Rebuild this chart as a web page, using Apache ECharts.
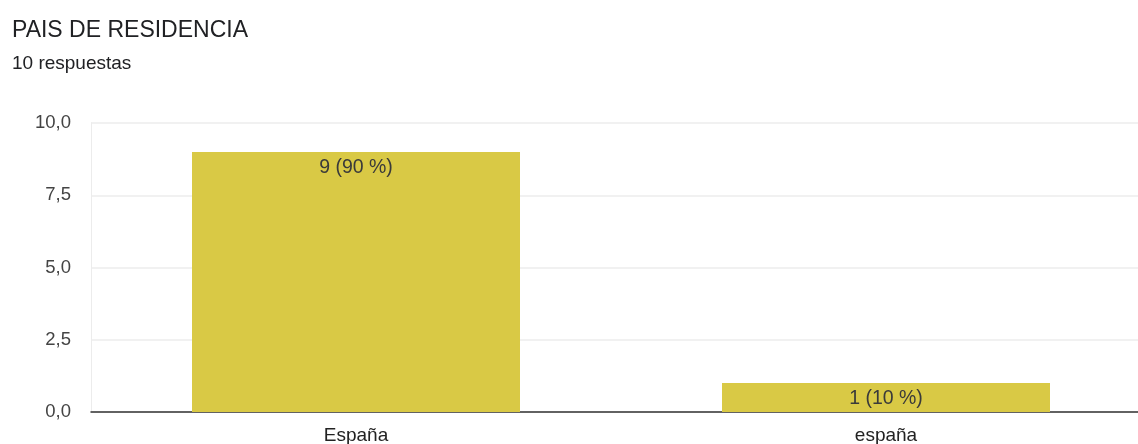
<!DOCTYPE html>
<html>
<head>
<meta charset="utf-8">
<script src="https://cdn.jsdelivr.net/npm/echarts@6/dist/echarts.min.js"></script>
<style>
  html, body { margin: 0; padding: 0; background: #fff; }
  #chart { width: 1138px; height: 444px; }
</style>
</head>
<body>
<div id="chart"></div>
<script>
  const categories = ['España', 'españa']
  const counts = [9, 1]
  const total = 10
  const yTicks = [0, 2.5, 5, 7.5, 10]

  const myChart = echarts.init(document.getElementById('chart'))

  const option = {
    animation: false,
    textStyle: { fontFamily: '"Liberation Sans", Arial, sans-serif' },
    title: {
      text: 'PAIS DE RESIDENCIA',
      subtext: total + ' respuestas',
      left: 7,
      top: 14,
      itemGap: 12,
      textStyle: { fontSize: 23, fontWeight: 'normal', color: '#202124' },
      subtextStyle: { fontSize: 19, color: '#202124' }
    },
    grid: {
      left: 91,
      width: 1060,
      top: 123,
      bottom: 32,
      outerBoundsMode: 'none'
    },
    xAxis: {
      type: 'category',
      data: categories,
      axisTick: { show: false },
      axisLine: { lineStyle: { color: '#333', width: 1.5 } },
      axisLabel: { fontSize: 19, color: '#222', margin: 14 }
    },
    yAxis: {
      type: 'value',
      min: yTicks[0],
      max: yTicks[yTicks.length - 1],
      interval: 2.5,
      axisLine: { show: true, lineStyle: { color: '#ececec' } },
      splitLine: { lineStyle: { color: '#ececec', width: 1.5 } },
      axisLabel: {
        fontSize: 18.5,
        color: '#444',
        margin: 20,
        formatter: v => v.toFixed(1).replace('.', ',')
      }
    },
    series: [{
      type: 'bar',
      data: counts,
      barWidth: 328,
      itemStyle: { color: '#D9C945' },
      label: {
        show: true,
        position: 'insideTop',
        distance: 6,
        fontSize: 19.5,
        color: '#3a3a3a',
        formatter: p => p.value + ' (' + Math.round(p.value / total * 100) + ' %)'
      }
    }]
  }

  myChart.setOption(option)
</script>
</body>
</html>
